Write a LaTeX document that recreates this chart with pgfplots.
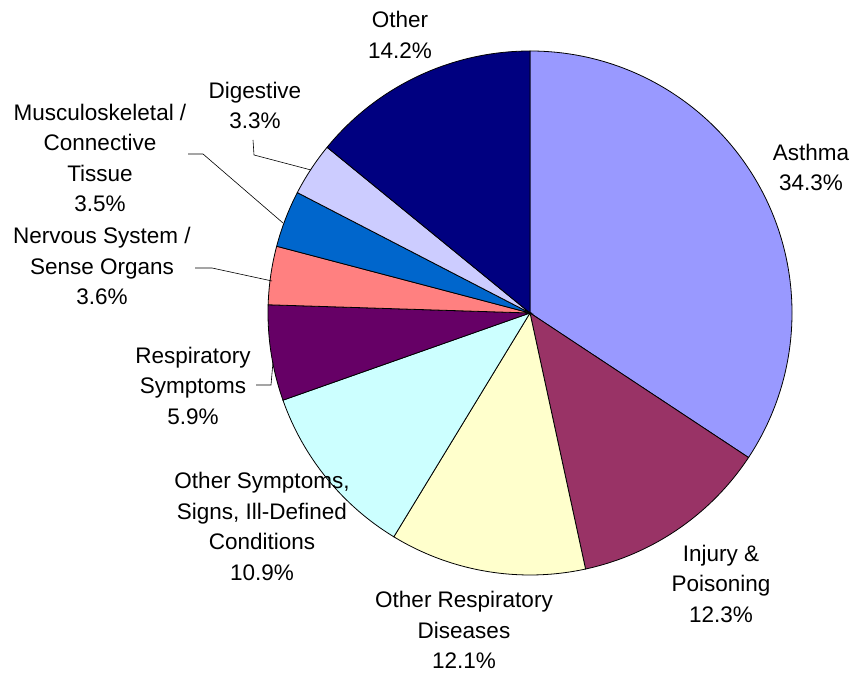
\documentclass[border=0pt]{standalone}
\usepackage{pgfplots}
\pgfplotsset{compat=1.18}
\usepackage{fontspec}
\setmainfont{Liberation Sans}

\definecolor{cAsthma}{HTML}{9999FF}
\definecolor{cInjury}{HTML}{993366}
\definecolor{cOthResp}{HTML}{FFFFCC}
\definecolor{cOthSymp}{HTML}{CCFFFF}
\definecolor{cRespSymp}{HTML}{660066}
\definecolor{cNervous}{HTML}{FF8080}
\definecolor{cMusc}{HTML}{0066CC}
\definecolor{cDigest}{HTML}{CCCCFF}
\definecolor{cOther}{HTML}{000080}

\tikzset{lbl/.style={font=\fontsize{22.5}{30.5}\selectfont, align=center, inner sep=0pt}}

% #1 = cumulative share before the slice (%), #2 = share (%), #3 = colour
\newcommand{\slice}[3]{%
  \filldraw[fill=#3, draw=black, line width=0.8pt]
    (axis cs:0,0) -- (axis cs:{262*cos(90-3.6*#1)},{262*sin(90-3.6*#1)})
    arc[start angle={90-3.6*#1}, end angle={90-3.6*(#1+#2)}, radius=262pt] -- cycle;}

\begin{document}
\begin{tikzpicture}
\begin{axis}[
    x=1pt, y=1pt,
    xmin=-530, xmax=320, ymin=-361, ymax=313,
    hide axis, clip=false
]
\path (axis cs:-530,-361) rectangle (axis cs:320,313);

\slice{0}{34.3}{cAsthma}
\slice{34.3}{12.3}{cInjury}
\slice{46.6}{12.1}{cOthResp}
\slice{58.7}{10.9}{cOthSymp}
\slice{69.6}{5.9}{cRespSymp}
\slice{75.5}{3.6}{cNervous}
\slice{79.1}{3.5}{cMusc}
\slice{82.6}{3.3}{cDigest}
\slice{85.9}{14.1}{cOther}

% leader lines
\draw[line width=0.6pt] (axis cs:-277,173) -- (axis cs:-276,158) -- (axis cs:-219,143);
\draw[line width=0.6pt] (axis cs:-342,159) -- (axis cs:-327,159) -- (axis cs:-247,90);
\draw[line width=0.6pt] (axis cs:-335,45) -- (axis cs:-318,45) -- (axis cs:-258,32);
\draw[line width=0.6pt] (axis cs:-274,-72) -- (axis cs:-259,-72) -- (axis cs:-257,-49);

% labels
\node[lbl] at (axis cs:281,145.5) {Asthma\\34.3\%};
\node[lbl] at (axis cs:191,-270.5) {Injury \&\\Poisoning\\12.3\%};
\node[lbl] at (axis cs:-66,-317) {Other Respiratory\\Diseases\\12.1\%};
\node[lbl] at (axis cs:-268,-213.5) {Other Symptoms,\\Signs, Ill-Defined\\Conditions\\10.9\%};
\node[lbl] at (axis cs:-337,-72.5) {Respiratory\\Symptoms\\5.9\%};
\node[lbl] at (axis cs:-428,47) {Nervous System /\\Sense Organs\\3.6\%};
\node[lbl] at (axis cs:-430,155) {Musculoskeletal /\\Connective\\Tissue\\3.5\%};
\node[lbl] at (axis cs:-275,207.5) {Digestive\\3.3\%};
\node[lbl] at (axis cs:-130,278) {Other\\14.2\%};
\end{axis}
\end{tikzpicture}
\end{document}
